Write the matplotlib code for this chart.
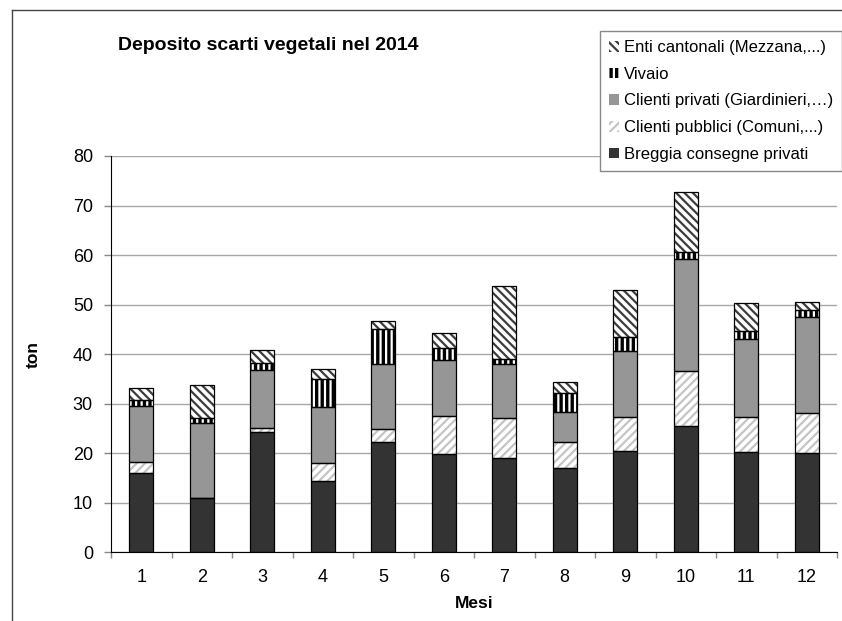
import matplotlib

matplotlib.use("Agg")
import matplotlib.pyplot as plt
from matplotlib.lines import Line2D
import numpy as np

# monthly tonnage per source
MONTHS = ["1", "2", "3", "4", "5", "6", "7", "8", "9", "10", "11", "12"]
BREGGIA = [16.0, 10.9, 24.2, 14.3, 22.2, 19.9, 19.0, 17.0, 20.5, 25.4, 20.3, 20.0]
PUBBLICI = [2.3, 0.1, 0.8, 3.7, 2.6, 7.7, 8.1, 5.2, 6.8, 11.2, 7.0, 8.2]
PRIVATI = [11.3, 15.2, 11.7, 11.4, 13.2, 11.3, 10.9, 6.2, 13.4, 22.6, 15.8, 19.4]
VIVAIO = [1.2, 0.9, 1.5, 5.5, 7.1, 2.3, 1.0, 3.7, 2.7, 1.4, 1.6, 1.3]
ENTI = [2.3, 6.6, 2.6, 2.2, 1.6, 3.0, 14.7, 2.2, 9.5, 12.2, 5.7, 1.7]

LABELS = [
    "Breggia consegne privati",
    "Clienti pubblici (Comuni,...)",
    "Clienti privati (Giardinieri,\u2026)",
    "Vivaio",
    "Enti cantonali (Mezzana,...)",
]

# (fill, hatch colour, hatch)
STYLES = [
    ("#333333", "#333333", None),
    ("white", "#c4c4c4", "////"),
    ("#969696", "#969696", None),
    ("black", "white", "|||"),
    ("white", "#3c3c3c", "\\\\\\\\"),
]

plt.rcParams["font.family"] = ["Liberation Sans", "DejaVu Sans"]
plt.rcParams["hatch.linewidth"] = 1.6

fig = plt.figure(figsize=(8.42, 6.21), dpi=100)
ax = fig.add_axes([111 / 842, 68.7 / 621, 726 / 842, 396.3 / 621])

x = np.arange(len(MONTHS))
width = 0.4
bottom = np.zeros(len(MONTHS))
handles = []
for values, label, (fill, hcol, hatch) in zip(
    [BREGGIA, PUBBLICI, PRIVATI, VIVAIO, ENTI], LABELS, STYLES
):
    bars = ax.bar(x, values, width, bottom=bottom, color=fill, edgecolor=hcol,
                  hatch=hatch, linewidth=0, zorder=2, label=label)
    ax.bar(x, values, width, bottom=bottom, facecolor="none", edgecolor="black",
           linewidth=0.9, zorder=3)
    handles.append(bars)
    bottom += np.array(values)

ax.set_xlim(-0.5, len(MONTHS) - 0.5)
ax.set_ylim(0, 80)
ax.set_yticks(np.arange(0, 81, 10))
ax.set_xticks(x)
ax.set_xticklabels(MONTHS)
ax.set_xticks(np.arange(-0.5, len(MONTHS)), minor=True)
ax.tick_params(axis="x", which="major", length=0, pad=12, labelsize=13)
ax.tick_params(axis="x", which="minor", length=4, width=1, color="#888888")
ax.tick_params(axis="y", length=5, width=1, color="#888888", pad=8, labelsize=13)

ax.grid(axis="y", color="#a8a8a8", linewidth=1, zorder=0)
ax.set_axisbelow(True)
for side in ["top", "right"]:
    ax.spines[side].set_visible(False)
ax.spines["left"].set_color("black")
ax.spines["bottom"].set_color("black")

ax.set_ylabel("ton", fontsize=12.5, fontweight="bold")
ax.yaxis.set_label_coords(-0.097, 0.5)
ax.set_xlabel("Mesi", fontsize=12.5, fontweight="bold")
ax.xaxis.set_label_coords(0.5, -0.11)

fig.text(118 / 842, 1 - 45 / 621, "Deposito scarti vegetali nel 2014",
         fontsize=14, fontweight="bold", ha="left", va="center")

leg = fig.legend(handles[::-1], LABELS[::-1], loc="upper right",
                 bbox_to_anchor=(1.0, 1 - 31 / 621), fontsize=12,
                 frameon=True, fancybox=False, framealpha=1,
                 edgecolor="#888888", handlelength=0.6, handleheight=0.6,
                 handletextpad=0.25, labelspacing=0.7, borderpad=0.55,
                 borderaxespad=0)
leg.get_frame().set_linewidth(1)

# outer chart frame
fig.add_artist(Line2D([12 / 842, 12 / 842], [0, 1 - 10 / 621],
                      transform=fig.transFigure, color="#444444", linewidth=1))
fig.add_artist(Line2D([12 / 842, 1], [1 - 10 / 621, 1 - 10 / 621],
                      transform=fig.transFigure, color="#444444", linewidth=1))

fig.savefig("out.png", dpi=100, facecolor="white")
